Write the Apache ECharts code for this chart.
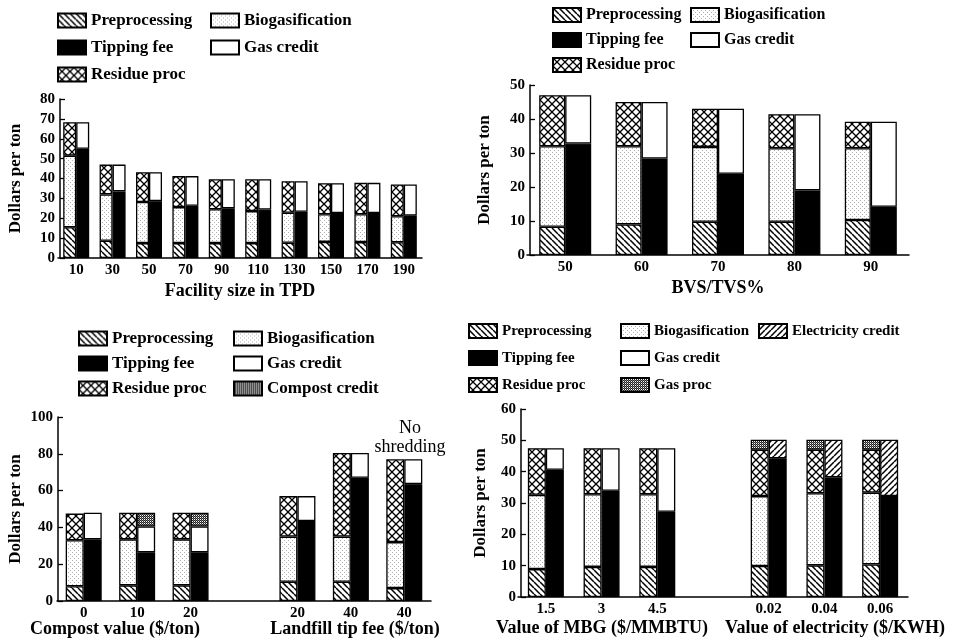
<!DOCTYPE html>
<html>
<head>
<meta charset="utf-8">
<script src="https://cdn.jsdelivr.net/npm/echarts@6/dist/echarts.min.js"></script>
<style>
  html, body { margin: 0; background: #fff; }
  #chart { width: 968px; height: 640px; }
</style>
</head>
<body>
<div id="chart"></div>
<script>
// --- panel 1: facility size (TPD) ---
var sizeCats = ['10', '30', '50', '70', '90', '110', '130', '150', '170', '190'];
var sizePre = [15.5, 8.7, 7.5, 7.5, 7.5, 7.5, 7.7, 8.1, 8.0, 7.9];
var sizeBio = [36.0, 23.3, 20.7, 18.1, 17.0, 16.1, 15.1, 13.9, 14.0, 13.1];
var sizeRes = [16.8, 15.0, 15.0, 15.6, 15.1, 16.0, 15.8, 15.6, 15.8, 16.0];
var sizeTip = [55.0, 33.5, 28.6, 26.3, 25.0, 24.4, 23.3, 22.6, 22.6, 21.3];
var sizeGas = [13.3, 13.5, 14.6, 14.9, 14.6, 15.2, 15.3, 15.0, 15.2, 15.7];

// --- panel 2: BVS/TVS % ---
var bvsCats = ['50', '60', '70', '80', '90'];
var bvsPre = [8.3, 9.0, 9.8, 9.8, 10.3];
var bvsBio = [23.7, 23.0, 22.0, 21.6, 21.1];
var bvsRes = [15.0, 13.0, 11.2, 10.0, 7.8];
var bvsTip = [32.8, 28.4, 23.9, 19.0, 14.2];
var bvsGas = [14.2, 16.6, 19.1, 22.4, 25.0];

// --- panel 3: compost value / landfill tip fee ---
var compCats = ['0', '10', '20', '', '20', '40', '40'];
var compPre = [8.0, 8.5, 8.5, null, 10.5, 10.5, 7.0];
var compBio = [25.0, 25.0, 25.0, null, 24.5, 24.5, 25.0];
var compRes = [14.5, 14.5, 14.5, null, 22.0, 45.5, 45.0];
var compTip = [33.5, 26.5, 26.5, null, 43.5, 67.0, 63.5];
var compGas = [14.5, 14.0, 14.0, null, 13.5, 13.5, 13.5];
var compCredit = [null, 7.5, 7.5, null, null, null, null];

// --- panel 4: value of MBG / electricity ---
var mbgCats = ['1.5', '3', '4.5', '', '0.02', '0.04', '0.06'];
var mbgPre = [8.9, 9.6, 9.6, null, 9.9, 10.1, 10.4];
var mbgBio = [23.7, 23.2, 23.2, null, 22.3, 23.0, 22.9];
var mbgRes = [14.9, 14.7, 14.7, null, 14.8, 13.9, 13.7];
var mbgGasProc = [null, null, null, null, 3.2, 3.2, 3.2];
var mbgTip = [40.6, 33.9, 27.2, null, 44.3, 38.2, 32.2];
var mbgGas = [6.9, 13.6, 20.3, null, null, null, null];
var mbgElec = [null, null, null, null, 5.9, 12.0, 18.0];

var FONT = '"Liberation Serif", "DejaVu Serif", serif';

// fill patterns drawn on small canvases
function pattern(size, draw) {
  var c = document.createElement('canvas');
  c.width = c.height = size;
  var ctx = c.getContext('2d');
  ctx.fillStyle = '#fff';
  ctx.fillRect(0, 0, size, size);
  draw(ctx, size);
  return { image: c, repeat: 'repeat' };
}
function lines(ctx, s, back) {
  ctx.strokeStyle = '#000';
  ctx.beginPath();
  for (var k = -s; k <= s; k += s) {
    if (back) { ctx.moveTo(k, 0); ctx.lineTo(k + s, s); }
    else { ctx.moveTo(k, s); ctx.lineTo(k + s, 0); }
  }
  ctx.stroke();
}
var fillPre = pattern(6, function (ctx, s) { ctx.lineWidth = 1.5; lines(ctx, s, true); });
var fillElec = pattern(6, function (ctx, s) { ctx.lineWidth = 1.5; lines(ctx, s, false); });
var fillRes = pattern(8, function (ctx, s) {
  ctx.lineWidth = 1.3; lines(ctx, s, true); lines(ctx, s, false);
});
var fillBio = pattern(4, function (ctx) {
  ctx.fillStyle = '#b0b0b0';
  ctx.fillRect(0, 0, 1, 1);
  ctx.fillRect(2, 2, 1, 1);
});
var fillDark = pattern(2, function (ctx) {
  ctx.fillStyle = '#222';
  ctx.fillRect(0, 0, 1, 1);
  ctx.fillRect(1, 1, 1, 1);
  ctx.fillStyle = '#777';
  ctx.fillRect(1, 0, 1, 1);
});

function bar(name, data, idx, stack, fill, width) {
  return {
    name: name, type: 'bar', xAxisIndex: idx, yAxisIndex: idx,
    stack: stack + idx, data: data, barWidth: width, barGap: '0%',
    itemStyle: { color: fill, borderColor: '#000', borderWidth: 1.3 },
    emphasis: { disabled: true }
  };
}

var series = [
  bar('Preprocessing', sizePre, 0, 'cost', fillPre, 13),
  bar('Biogasification', sizeBio, 0, 'cost', fillBio, 13),
  bar('Residue proc', sizeRes, 0, 'cost', fillRes, 13),
  bar('Tipping fee', sizeTip, 0, 'rev', '#000', 13),
  bar('Gas credit', sizeGas, 0, 'rev', '#fff', 13),

  bar('Preprocessing', bvsPre, 1, 'cost', fillPre, 26),
  bar('Biogasification', bvsBio, 1, 'cost', fillBio, 26),
  bar('Residue proc', bvsRes, 1, 'cost', fillRes, 26),
  bar('Tipping fee', bvsTip, 1, 'rev', '#000', 26),
  bar('Gas credit', bvsGas, 1, 'rev', '#fff', 26),

  bar('Preprocessing', compPre, 2, 'cost', fillPre, 18),
  bar('Biogasification', compBio, 2, 'cost', fillBio, 18),
  bar('Residue proc', compRes, 2, 'cost', fillRes, 18),
  bar('Tipping fee', compTip, 2, 'rev', '#000', 18),
  bar('Gas credit', compGas, 2, 'rev', '#fff', 18),
  bar('Compost credit', compCredit, 2, 'rev', fillDark, 18),

  bar('Preprocessing', mbgPre, 3, 'cost', fillPre, 18),
  bar('Biogasification', mbgBio, 3, 'cost', fillBio, 18),
  bar('Residue proc', mbgRes, 3, 'cost', fillRes, 18),
  bar('Gas proc', mbgGasProc, 3, 'cost', fillDark, 18),
  bar('Tipping fee', mbgTip, 3, 'rev', '#000', 18),
  bar('Gas credit', mbgGas, 3, 'rev', '#fff', 18),
  bar('Electricity credit', mbgElec, 3, 'rev', fillElec, 18)
];

function legend(names, left, top, gap, size) {
  return {
    data: names, orient: 'vertical', left: left, top: top, padding: 0,
    itemWidth: 28, itemHeight: 14, itemGap: gap, selectedMode: false,
    icon: 'rect',
    textStyle: { fontFamily: FONT, fontWeight: 'bold', fontSize: size, color: '#000' }
  };
}

function yAxis(idx, max, step, gap, off) {
  return {
    type: 'value', gridIndex: idx, min: 0, max: max, interval: step, offset: off,
    name: 'Dollars per ton', nameLocation: 'middle', nameGap: gap,
    nameTextStyle: { fontFamily: FONT, fontWeight: 'bold', fontSize: 17, color: '#000' },
    axisLine: { show: true, lineStyle: { color: '#000', width: 1.5 } },
    axisTick: { show: true, inside: true, length: 5, lineStyle: { color: '#000', width: 1.3 } },
    splitLine: { show: false },
    axisLabel: { margin: 5, fontFamily: FONT, fontWeight: 'bold', fontSize: 15, color: '#000' }
  };
}

function xAxis(idx, cats, name) {
  return {
    type: 'category', gridIndex: idx, data: cats,
    name: name, nameLocation: 'middle', nameGap: 24,
    nameTextStyle: { fontFamily: FONT, fontWeight: 'bold', fontSize: 18, color: '#000' },
    axisLine: { lineStyle: { color: '#000', width: 1.5 } },
    axisTick: { show: false },
    axisLabel: { margin: 5, interval: 0, fontFamily: FONT, fontWeight: 'bold', fontSize: 15, color: '#000' }
  };
}

function caption(text, x, y, size, weight) {
  return {
    type: 'text', x: x, y: y, silent: true,
    style: {
      text: text, align: 'center', verticalAlign: 'middle', lineHeight: 19,
      font: (weight || 'bold') + ' ' + (size || 18) + 'px ' + FONT, fill: '#000'
    }
  };
}

var chart = echarts.init(document.getElementById('chart'));
chart.setOption({
  animation: false,
  backgroundColor: '#fff',
  legend: [
    legend(['Preprocessing', 'Tipping fee', 'Residue proc'], 57, 12, 10, 17),
    legend(['Biogasification', 'Gas credit'], 210, 12, 10, 17),
    legend(['Preprocessing', 'Tipping fee', 'Residue proc'], 552, 7, 9, 16),
    legend(['Biogasification', 'Gas credit'], 690, 7, 9, 16),
    legend(['Preprocessing', 'Tipping fee', 'Residue proc'], 78, 330, 8, 17),
    legend(['Biogasification', 'Gas credit', 'Compost credit'], 233, 330, 8, 17),
    legend(['Preprocessing', 'Tipping fee', 'Residue proc'], 468, 323, 11, 15),
    legend(['Biogasification', 'Gas credit', 'Gas proc'], 620, 323, 11, 15),
    legend(['Electricity credit'], 758, 323, 11, 15)
  ],
  grid: [
    { left: 58, top: 99, width: 364, height: 159 },
    { left: 527, top: 85, width: 382, height: 170 },
    { left: 57, top: 417, width: 374, height: 184 },
    { left: 518, top: 409, width: 390, height: 188 }
  ],
  xAxis: [
    xAxis(0, sizeCats, 'Facility size in TPD'),
    xAxis(1, bvsCats, 'BVS/TVS%'),
    xAxis(2, compCats, ''),
    xAxis(3, mbgCats, '')
  ],
  yAxis: [
    yAxis(0, 80, 10, 36, -2),
    yAxis(1, 50, 10, 37, -3),
    yAxis(2, 100, 20, 34, -1),
    yAxis(3, 60, 10, 32, -3)
  ],
  graphic: [
    caption('No\nshredding', 410, 438, 18, 'normal'),
    caption('Compost value ($/ton)', 115, 629),
    caption('Landfill tip fee ($/ton)', 355, 629),
    caption('Value of MBG ($/MMBTU)', 602, 628),
    caption('Value of electricity ($/KWH)', 835, 628)
  ],
  series: series
});
</script>
</body>
</html>
